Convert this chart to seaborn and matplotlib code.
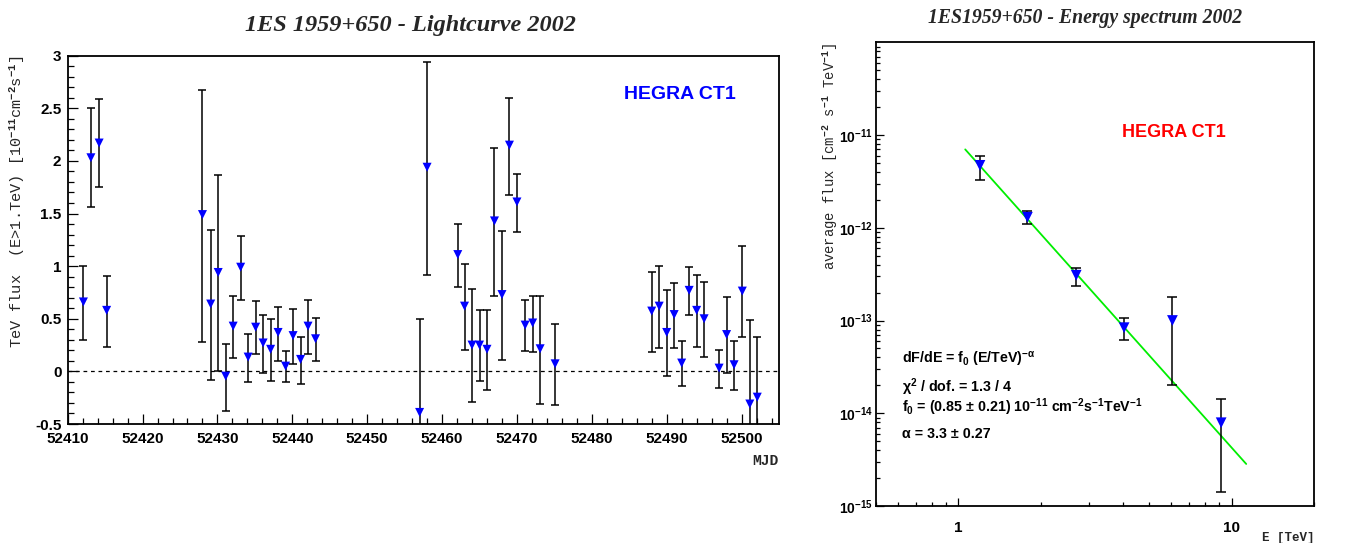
import matplotlib
matplotlib.use("Agg")
import matplotlib.pyplot as plt
import numpy as np
import pandas as pd
import seaborn as sns
from matplotlib.ticker import (MultipleLocator, FixedLocator, FixedFormatter,
                               NullFormatter, FuncFormatter, LogLocator)

# ---------------- data: light curve ----------------
mjd = [52412.1, 52413.1, 52414.2, 52415.2,
       52428.0, 52429.1, 52430.1, 52431.1, 52432.1, 52433.1, 52434.1, 52435.1,
       52436.1, 52437.1, 52438.1, 52439.1, 52440.1, 52441.1, 52442.1, 52443.1,
       52457.0, 52458.0, 52462.1, 52463.0, 52464.0, 52465.0, 52466.0, 52467.0,
       52468.0, 52469.0, 52470.0, 52471.1, 52472.1, 52473.1, 52475.1,
       52488.0, 52489.0, 52490.0, 52491.0, 52492.0, 52493.0, 52494.0, 52495.0,
       52497.0, 52498.0, 52499.0, 52500.1, 52501.1, 52502.1]
flux = [0.66, 2.03, 2.17, 0.58,
        1.49, 0.64, 0.94, -0.045, 0.43, 0.99, 0.136, 0.42,
        0.27, 0.21, 0.37, 0.05, 0.34, 0.114, 0.43, 0.31,
        -0.39, 1.94, 1.11, 0.62, 0.25, 0.25, 0.21, 1.43,
        0.73, 2.15, 1.61, 0.44, 0.46, 0.215, 0.072,
        0.573, 0.62, 0.37, 0.54, 0.079, 0.77, 0.58, 0.50,
        0.031, 0.35, 0.063, 0.763, -0.31, -0.245]
flux_hi = [1.00, 2.50, 2.59, 0.91,
           2.67, 1.34, 1.87, 0.26, 0.72, 1.29, 0.355, 0.665,
           0.54, 0.50, 0.61, 0.19, 0.59, 0.33, 0.68, 0.51,
           0.50, 2.94, 1.40, 1.02, 0.78, 0.58, 0.58, 2.12,
           1.33, 2.60, 1.88, 0.675, 0.72, 0.72, 0.45,
           0.94, 1.00, 0.77, 0.84, 0.285, 0.99, 0.915, 0.85,
           0.205, 0.71, 0.285, 1.19, 0.49, 0.326]
flux_lo = [0.30, 1.565, 1.755, 0.23,
           0.28, -0.08, 0.00, -0.375, 0.13, 0.675, -0.105, 0.164,
           -0.016, -0.095, 0.095, -0.105, 0.07, -0.12, 0.164, 0.095,
           -1.28, 0.92, 0.80, 0.205, -0.29, -0.095, -0.175, 0.72,
           0.11, 1.68, 1.32, 0.196, 0.186, -0.31, -0.32,
           0.186, 0.22, -0.045, 0.22, -0.137, 0.535, 0.234, 0.136,
           -0.156, -0.02, -0.175, 0.326, -1.11, -0.816]

# ---------------- data: energy spectrum ----------------
energy = [1.20, 1.79, 2.70, 4.04, 6.07, 9.15]
spec_flux = [4.71e-12, 1.30e-12, 3.08e-13, 8.37e-14, 1.00e-13, 7.9e-15]
spec_hi = [5.93e-12, 1.51e-12, 3.66e-13, 1.06e-13, 1.78e-13, 1.41e-14]
spec_lo = [3.30e-12, 1.09e-12, 2.34e-13, 6.10e-14, 2.03e-14, 1.43e-15]
fit_energy = [1.06, 11.3]
fit_flux = [7.0e-12, 2.84e-15]

x_major = [52410, 52420, 52430, 52440, 52450, 52460, 52470, 52480, 52490, 52500]
y_decades = [1e-15, 1e-14, 1e-13, 1e-12, 1e-11]
y_decade_labels = [r'$\mathbf{10^{-15}}$', r'$\mathbf{10^{-14}}$', r'$\mathbf{10^{-13}}$',
                   r'$\mathbf{10^{-12}}$', r'$\mathbf{10^{-11}}$']

# ---------------- style ----------------
sns.set_theme(style="ticks")
plt.rcParams.update({
    "font.family": ["Liberation Sans", "DejaVu Sans"],
    "font.weight": "bold",
    "axes.unicode_minus": False,
    "mathtext.fontset": "custom",
    "mathtext.rm": "Liberation Sans:bold",
    "mathtext.bf": "Liberation Sans:bold",
    "mathtext.it": "Liberation Sans:bold:italic",
    "mathtext.tt": "Liberation Mono",
    "mathtext.default": "rm",
    "axes.edgecolor": "black",
    "axes.linewidth": 1.3,
    "xtick.color": "black",
    "ytick.color": "black",
})

W, H = 1372, 543
fig = plt.figure(figsize=(W / 100, H / 100), dpi=100)
fig.patch.set_facecolor("white")

ax1 = fig.add_axes([67.7 / W, 1 - 424 / H, (779 - 67.7) / W, (424 - 55.7) / H])
ax2 = fig.add_axes([876 / W, 1 - 506 / H, (1314 - 876) / W, (506 - 42.3) / H])
for ax in (ax1, ax2):
    ax.set_facecolor("white")
    for s in ax.spines.values():
        s.set_visible(True)
        s.set_color("black")
        s.set_linewidth(1.3)

# ---------------- light curve ----------------
lc = pd.DataFrame({"mjd": mjd, "flux": flux, "hi": flux_hi, "lo": flux_lo})
ax1.axhline(0, color="black", lw=0.9, ls=(0, (3, 3)), zorder=1)
ax1.errorbar(lc["mjd"], lc["flux"],
             yerr=[lc["flux"] - lc["lo"], lc["hi"] - lc["flux"]],
             fmt="none", ecolor="black", elinewidth=1.1, capsize=3.2,
             capthick=1.1, zorder=2)
sns.scatterplot(data=lc, x="mjd", y="flux", marker="v", s=42, color="#0000ff",
                edgecolor="none", linewidth=0, ax=ax1, zorder=3, legend=False)
ax1.set_xlim(52410, 52505)
ax1.set_ylim(-0.5, 3)
ax1.xaxis.set_major_locator(FixedLocator(x_major))
ax1.xaxis.set_major_formatter(FuncFormatter(lambda v, p: f"{int(round(v))}"))
ax1.xaxis.set_minor_locator(MultipleLocator(2))
ax1.yaxis.set_major_locator(MultipleLocator(0.5))
ax1.yaxis.set_major_formatter(FuncFormatter(lambda v, p: f"{v:g}"))
ax1.yaxis.set_minor_locator(MultipleLocator(0.1))
ax1.tick_params(which="both", direction="in", top=False, right=False,
                width=0.9, labelsize=11)
ax1.tick_params(which="major", length=7.5)
ax1.tick_params(which="minor", length=4)
ax1.tick_params(axis="x", which="major", pad=6)
ax1.tick_params(axis="y", which="major", pad=4.5)

ax1.set_ylabel(r"TeV flux  (E>1.TeV) [10$^{\mathtt{-11}}$cm$^{\mathtt{-2}}$s$^{\mathtt{-1}}$]",
               family="Liberation Mono", weight="normal", size=11, loc="top")
ax1.yaxis.set_label_coords(-0.057, 1.0)
ax1.set_xlabel("MJD", family="Liberation Mono", weight="bold", size=10.5, loc="right")
ax1.xaxis.set_label_coords(1.0, -0.0815)

ax1.text(0.860, 0.8816, "HEGRA CT1", transform=ax1.transAxes, ha="center",
         va="baseline", color="#0000ff", family="Liberation Sans", weight="bold",
         size=14)

fig.text(410 / W, 1 - 31 / H, "1ES 1959+650 - Lightcurve 2002", ha="center",
         va="baseline", family="Liberation Serif", style="italic", weight="bold",
         size=17.5)

# ---------------- energy spectrum ----------------
ax2.set_xscale("log")
ax2.set_yscale("log")
sp = pd.DataFrame({"E": energy, "F": spec_flux, "hi": spec_hi, "lo": spec_lo})
fit = pd.DataFrame({"E": fit_energy, "F": fit_flux})
sns.lineplot(data=fit, x="E", y="F", color="#00ee00", lw=1.3, ax=ax2, zorder=2)
ax2.errorbar(sp["E"], sp["F"], yerr=[sp["F"] - sp["lo"], sp["hi"] - sp["F"]],
             fmt="none", ecolor="black", elinewidth=1.1, capsize=3.8,
             capthick=1.1, zorder=3)
sns.scatterplot(data=sp, x="E", y="F", marker="v", s=60, color="#0000ff",
                edgecolor="none", linewidth=0, ax=ax2, zorder=4, legend=False)
ax2.set_xlim(0.5, 20)
ax2.set_ylim(1e-15, 1e-10)
ax2.xaxis.set_major_locator(FixedLocator([1, 10]))
ax2.xaxis.set_major_formatter(FixedFormatter(["1", "10"]))
ax2.xaxis.set_minor_locator(FixedLocator([0.5, 0.6, 0.7, 0.8, 0.9,
                                          2, 3, 4, 5, 6, 7, 8, 9, 20]))
ax2.xaxis.set_minor_formatter(NullFormatter())
ax2.yaxis.set_major_locator(FixedLocator(y_decades))
ax2.yaxis.set_major_formatter(FixedFormatter(y_decade_labels))
ax2.yaxis.set_minor_locator(LogLocator(base=10, subs=np.arange(2, 10), numticks=20))
ax2.yaxis.set_minor_formatter(NullFormatter())
ax2.tick_params(which="both", direction="in", top=False, right=False,
                width=0.9, labelsize=11)
ax2.tick_params(axis="y", which="major", labelsize=10)
ax2.tick_params(which="major", length=6)
ax2.tick_params(which="minor", length=3)
ax2.tick_params(axis="x", which="major", pad=11)
ax2.tick_params(axis="y", which="major", pad=2)

ax2.set_ylabel(r"average flux [cm$^{\mathtt{-2}}$ s$^{\mathtt{-1}}$ TeV$^{\mathtt{-1}}$]",
               family="Liberation Mono", weight="normal", size=10, loc="top")
ax2.yaxis.set_label_coords(-0.083, 1.0)
ax2.set_xlabel("E [TeV]", family="Liberation Mono", weight="bold", size=9, loc="right")
ax2.xaxis.set_label_coords(1.0, -0.0554)

ax2.text(0.680, 0.7964, "HEGRA CT1", transform=ax2.transAxes, ha="center",
         va="baseline", color="#ff0000", family="Liberation Sans", weight="bold",
         size=13)

fit_lines = [
    (0.3077, r"dF/dE = f$_{0}$ (E/TeV)$^{-α}$"),
    (0.2452, r"χ$^{2}$ / dof. = 1.3 / 4"),
    (0.2027, r"f$_{0}$ = (0.85 ± 0.21) 10$^{-11}$ cm$^{-2}$s$^{-1}$TeV$^{-1}$"),
    (0.1473, r"α = 3.3 ± 0.27"),
]
for yy, txt in fit_lines:
    ax2.text(0.0594, yy, txt, transform=ax2.transAxes, ha="left", va="baseline",
             family="Liberation Sans", weight="bold", size=10.3, color="black")

fig.text(1085 / W, 1 - 22.7 / H, "1ES1959+650 - Energy spectrum 2002", ha="center",
         va="baseline", family="Liberation Serif", style="italic", weight="bold",
         size=14.2)

fig.savefig("out.png", dpi=100, facecolor="white")
